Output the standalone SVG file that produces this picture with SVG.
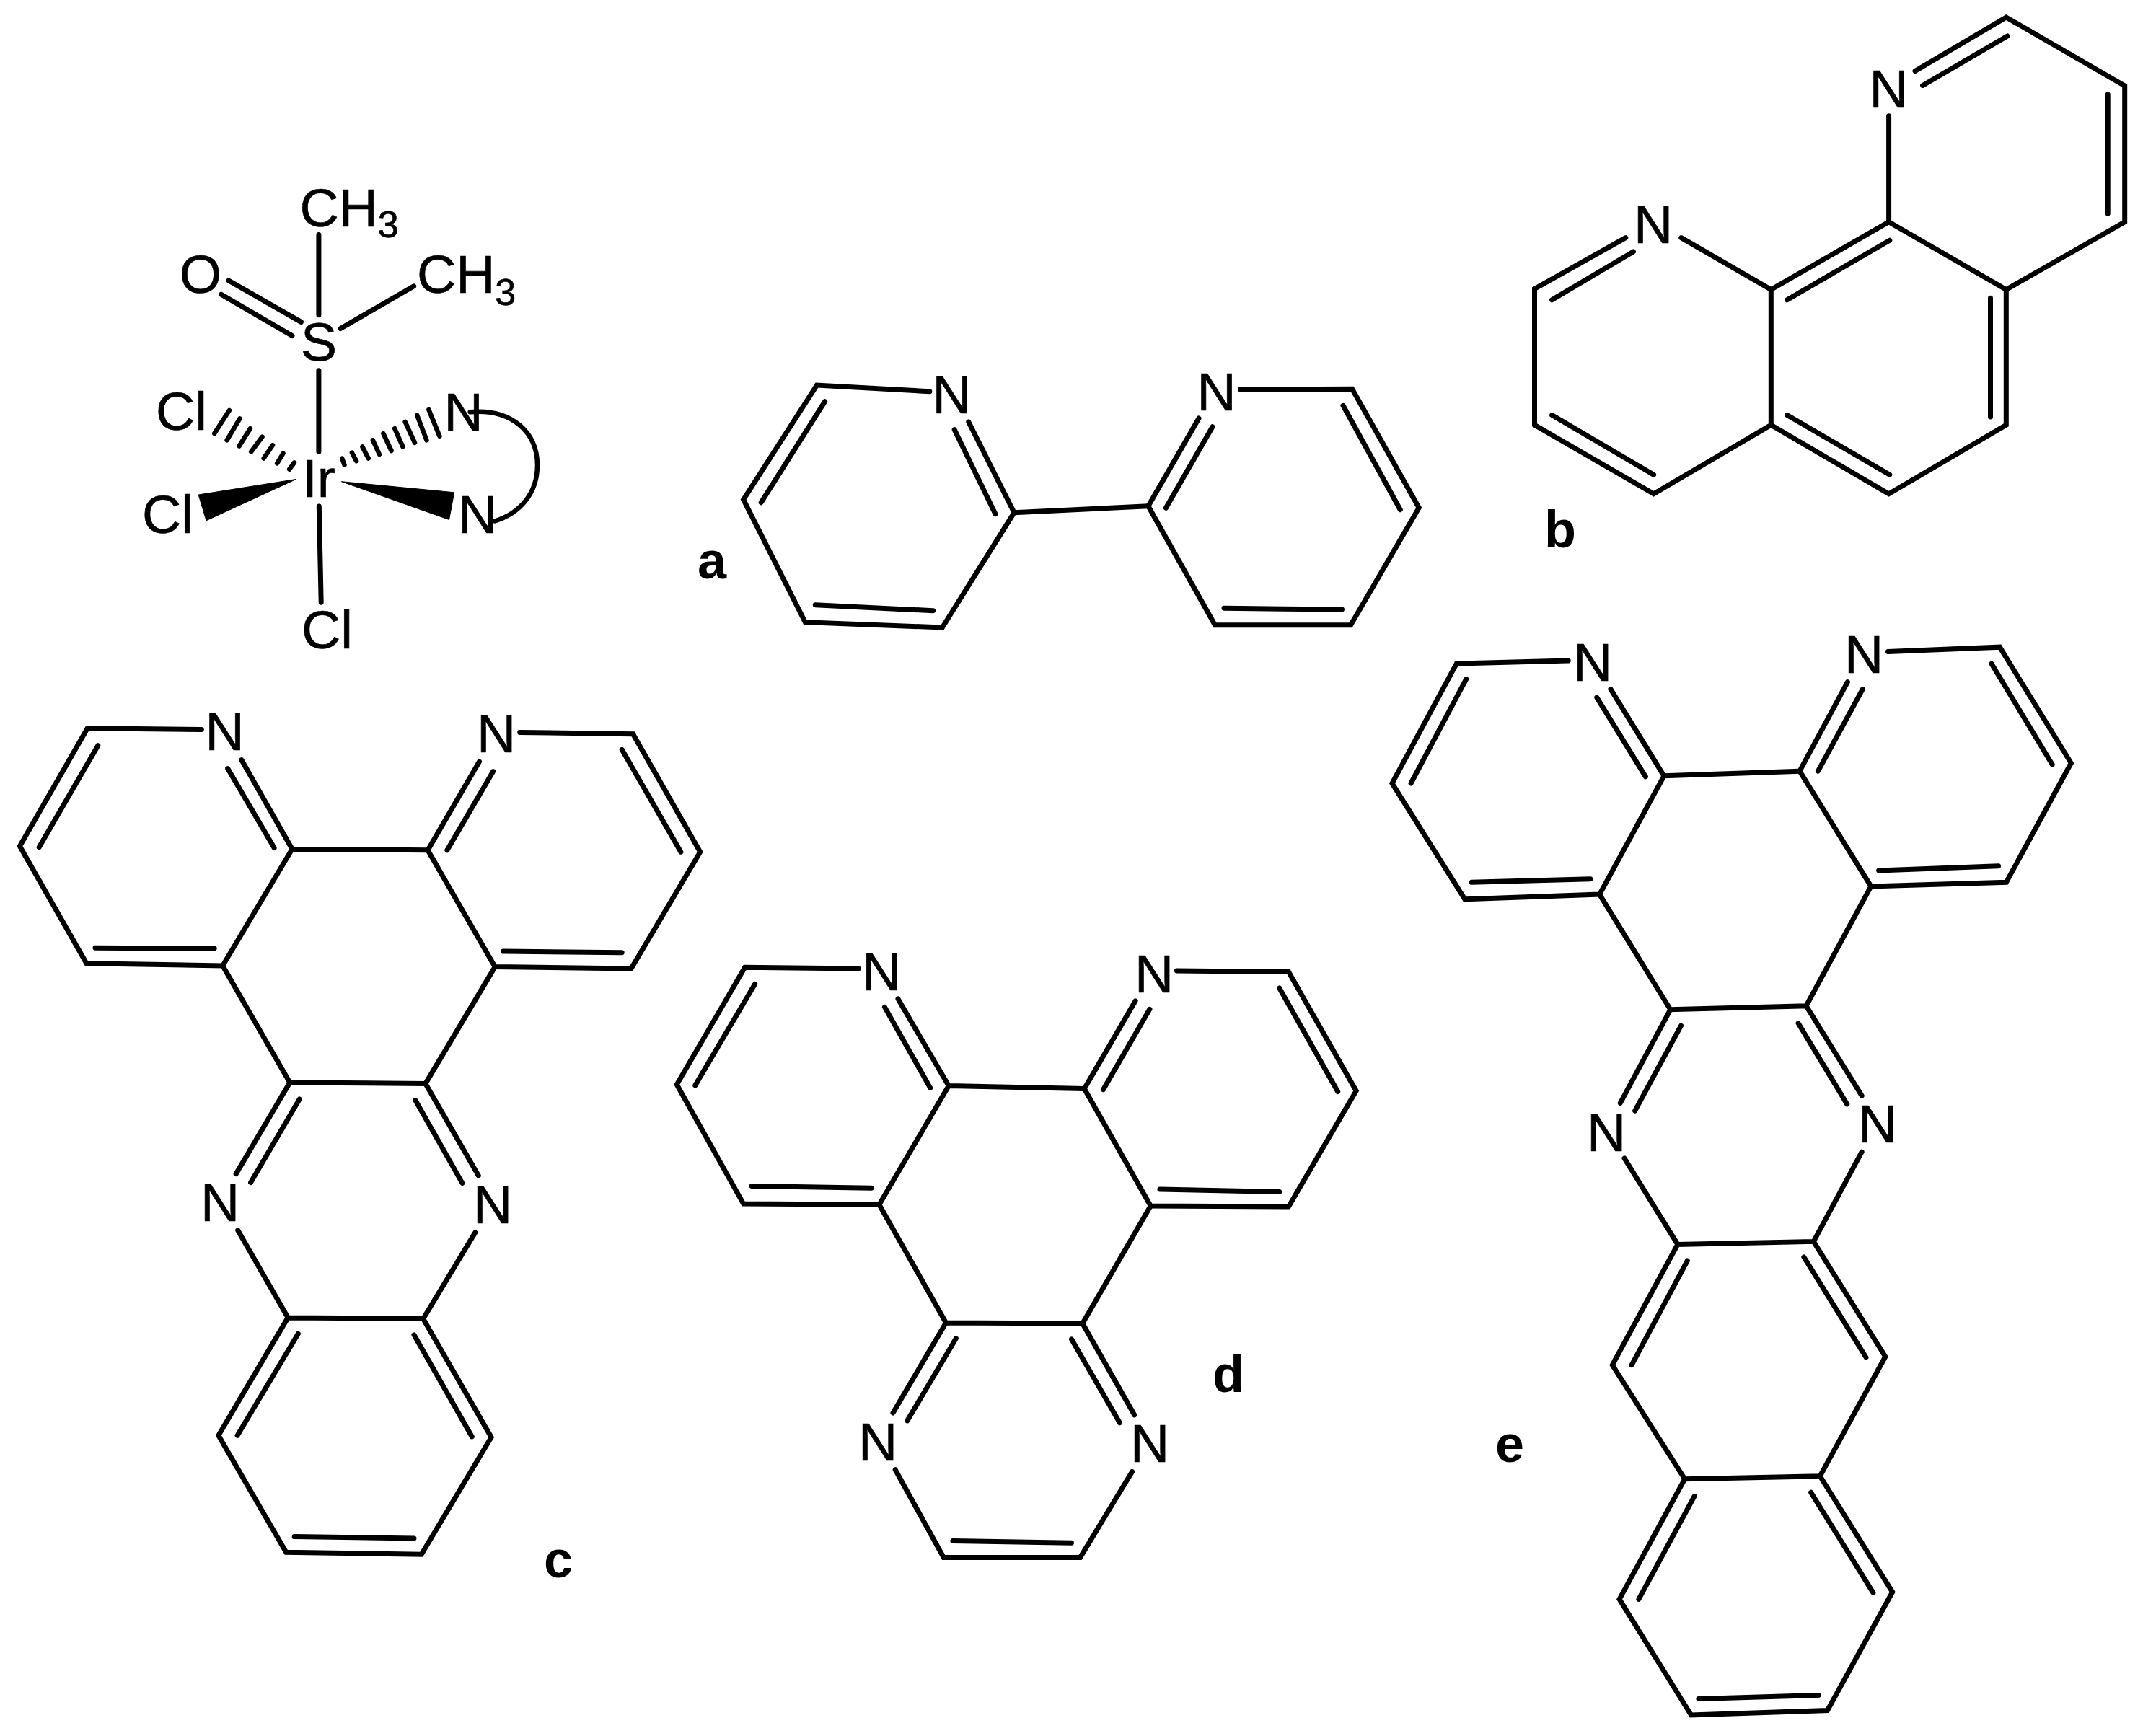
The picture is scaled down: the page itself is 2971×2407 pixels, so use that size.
<svg xmlns="http://www.w3.org/2000/svg" width="2971" height="2407" viewBox="0 0 2971 2407">
<style>
.b{fill:none;stroke:#000;stroke-width:7;stroke-linecap:round;stroke-linejoin:miter}
.h{fill:none;stroke:#000;stroke-width:6.5;stroke-linecap:round}
.w{fill:#000;stroke:#000;stroke-width:1}
text{font-family:"Liberation Sans",Arial,sans-serif;fill:#000}
.a{font-size:75px;stroke:#000;stroke-width:.7}
.m{font-size:75px;text-anchor:middle;stroke:#000;stroke-width:.7}
.l{font-size:72px;font-weight:bold}
</style>
<rect width="2971" height="2407" fill="#fff"/>

<g id="complex">
<path class="b" d="M441.9 325.6V436.7M317 389L417.4 446.4M306.7 408.2L405 465.6M472.1 455.5L573.7 396.8M441.9 513.8V626.3M442.3 702.1L445.2 835.2"/>
<path class="w" d="M410.4 664.5L275.2 686L286 721.8Z"/>
<path class="w" d="M473.4 667.7L629.7 682.8L622.6 720.5Z"/>
<path class="h" d="M317.9 568.9L297.2 601.1M332.4 580.4L314.6 610.3M346.9 594.2L331.6 618.5M363.5 605.7L348.2 626.3M378 617.2L365.6 635.5M392.5 628.6L384.2 642.4M407.9 641.5L401.2 650.7"/>
<path class="h" d="M594.4 568L609.4 604.8M578.3 575.8L591.5 610.3M561.7 585L575 613.9M547.2 594.2L558.4 619.4M531.4 601.1L542.6 625M516.9 610.3L526 630M502.4 619.4L510.7 635.5M487.9 627.7L494.1 639.2M474.2 635.5L477.5 644.7"/>
<path class="h" d="M651.7 571.2C710 566 745 600 745 645C745 685 720 712 686 722.5"/>
<text class="a" x="415.5" y="314">CH<tspan font-size="52" dy="15">3</tspan></text>
<text class="a" x="578" y="406">CH<tspan font-size="52" dy="17">3</tspan></text>
<text class="m" x="278" y="406">O</text>
<text class="m" x="442" y="500">S</text>
<text class="a" x="419" y="689">Ir</text>
<text class="a" x="216" y="595.5">Cl</text>
<text class="a" x="197" y="738.5">Cl</text>
<text class="a" x="418" y="899">Cl</text>
<text class="m" x="642.7" y="596.5">N</text>
<text class="m" x="662" y="738.8">N</text>
</g>

<g id="molecule-a">
<path class="b" d="M1288.8 542.7L1132.4 534L1030.7 692.7L1116.3 862.7L1306.4 870L1406 710.7L1342.8 585M1143.6 556.7L1055.2 696.7M1130.3 838.7L1293.7 846.7M1323.2 595.7L1380 712.7M1406 710.7L1591.9 701.7"/>
<path class="b" d="M1662 580L1591.9 701.7L1684.5 866.7H1872.5L1967.2 704L1874.6 539.3L1719.5 540M1616.4 704.3L1681 591.7M1862 562.3L1941.3 706.7M1697 843.3L1860.5 845"/>
<text class="m" x="1319.7" y="573.3">N</text>
<text class="m" x="1686.6" y="569.3">N</text>
<text class="l" x="967" y="802">a</text>
</g>

<g id="molecule-b">
<path class="b" d="M2253.8 329.6L2127.5 400.5V589.3L2292.6 684.7L2455.3 589.3V401.5L2330.8 329.6M2151.6 415.8L2264.4 349M2151.6 575.5L2292.6 658.2"/>
<path class="b" d="M2455.3 589.3L2618.6 684.7L2781.3 589.3V401.5L2618.6 307.7L2455.3 401.5M2477.6 575.5L2619.8 658.2M2759.5 413.3V578M2619.8 333.2L2477.6 415.8"/>
<path class="b" d="M2618.6 160.7V307.7M2781.3 401.5L2945.7 307.7V118.9L2781.3 24L2655 98.5M2665.6 118.4L2783 50M2922.2 131V296"/>
<text class="m" x="2292" y="336.7">N</text>
<text class="m" x="2618.6" y="149">N</text>
<text class="l" x="2141" y="759">b</text>
</g>

<g id="molecule-c">
<path class="b" d="M279.3 1011.4L121.2 1009.8L27.4 1173.2L119.9 1335.8L308.7 1339L405 1177.2L334.8 1053.6M135.8 1033.7L54.2 1174.8M132 1314.3L297.2 1315.1M315.7 1065.6L380.1 1175.6M405 1177.2L593.1 1178.8"/>
<path class="b" d="M664.5 1056L593.1 1178.8L686.2 1340.6L875 1343L970.7 1181.2L877.6 1017.8L720.7 1015.4M683.7 1069.6L619.9 1178.8M862.2 1039.3L943.9 1181.2M697.7 1319.1L862.2 1320.7"/>
<path class="b" d="M308.7 1339L401.8 1500.9L589.9 1502.4L686.2 1340.6M327.2 1627.6L401.8 1500.9M415.2 1524L347.6 1639.6M663.3 1630L589.9 1502.4M575.9 1525.6L640.9 1640.4"/>
<path class="b" d="M329.7 1705.7L399.2 1826.9L586.7 1828.5L658.8 1708.9M399.2 1826.9L302.9 1990.3L396.7 2152.2L584.2 2155.3L681.1 1992.7L586.7 1828.5M413.3 1849.2L329.1 1990.3M574 1850.8L654.3 1991.9M408.2 2130.6L574 2133"/>
<text class="m" x="311.6" y="1040">N</text>
<text class="m" x="688" y="1043">N</text>
<text class="m" x="305" y="1693">N</text>
<text class="m" x="683" y="1696">N</text>
<text class="l" x="754" y="2187">c</text>
</g>

<g id="molecule-d">
<path class="b" d="M1190.2 1343L1032.7 1341.3L938.3 1503.8L1030.7 1669.1L1218.9 1670.3L1315.2 1505.5L1245 1385M1046.7 1364.3L963.8 1504.9M1042.2 1644.4L1208 1647.3M1226.5 1396.4L1289.7 1508.4M1315.2 1505.5L1503.3 1509.5"/>
<path class="b" d="M1574.1 1387.8L1503.3 1509.5L1595.2 1672L1786.5 1673.1L1880.2 1512.4L1786.5 1347.6L1631.5 1345.9M1593.9 1399.3L1529.5 1510.7M1773.7 1370L1854.7 1513.5M1607.9 1649L1773.7 1652.5"/>
<path class="b" d="M1218.9 1670.3L1311.4 1833.9L1500.8 1835L1595.2 1672M1238 1959L1311.4 1833.9M1325.4 1855.7L1257.8 1969.9M1572.8 1961.9L1500.8 1835M1485.5 1856.8L1552.4 1972.8"/>
<path class="b" d="M1241.2 2037.7L1308.2 2159.4L1497.6 2159.4L1569.6 2040.5M1320.9 2136.4L1485.5 2139.3"/>
<text class="m" x="1222" y="1372.9">N</text>
<text class="m" x="1600" y="1375.8">N</text>
<text class="m" x="1217" y="2024.5">N</text>
<text class="m" x="1594" y="2026.7">N</text>
<text class="l" x="1681" y="1930">d</text>
</g>

<g id="molecule-e">
<path class="b" d="M2174.2 916.1L2019.3 920.2L1930 1086L2030.7 1246.7L2217.6 1240.1L2306.9 1075.8L2232.9 955.4M2032.7 941.6L1956.1 1086M2040.3 1223.3L2204.8 1218.7M2213.8 967.1L2281.4 1076.8M2306.9 1075.8L2495 1069.2"/>
<path class="b" d="M2561.4 945.7L2495 1069.2L2593.9 1228.9L2781.4 1223.3L2871.3 1058L2772.4 897.2L2617.5 903.4M2582.4 955.4L2520.5 1069.2M2761 920.2L2845.2 1060M2604.7 1206.9L2770.5 1200.8"/>
<path class="b" d="M2217.6 1240.1L2315.8 1399.8L2504 1394.7L2593.9 1228.9M2246.3 1529.4L2315.8 1399.8M2330.5 1422.2L2266.7 1540.1M2581.1 1519.2L2504 1394.7M2493.1 1418.7L2560.7 1530.9"/>
<path class="b" d="M2252 1605.9L2325.9 1725.4L2514.3 1721.4L2581.1 1597.2M2325.9 1725.4L2235.3 1892.6L2335.7 2050.7L2523.2 2046.7L2613.8 1881L2514.3 1721.4M2339.3 1748L2262.1 1892.6M2500.9 1743L2587 1882"/>
<path class="b" d="M2335.7 2050.7L2245.1 2217.4L2344.6 2378L2533.5 2371.5L2623.7 2207.3L2523.2 2046.7M2349.1 2074.3L2271.9 2217.4M2510.7 2069.3L2596.9 2208.3M2354.9 2355.4L2521 2350.4"/>
<text class="m" x="2208" y="944.2">N</text>
<text class="m" x="2584" y="933">N</text>
<text class="m" x="2227" y="1595.7">N</text>
<text class="m" x="2603" y="1583.5">N</text>
<text class="l" x="2073" y="2027">e</text>
</g>
</svg>
